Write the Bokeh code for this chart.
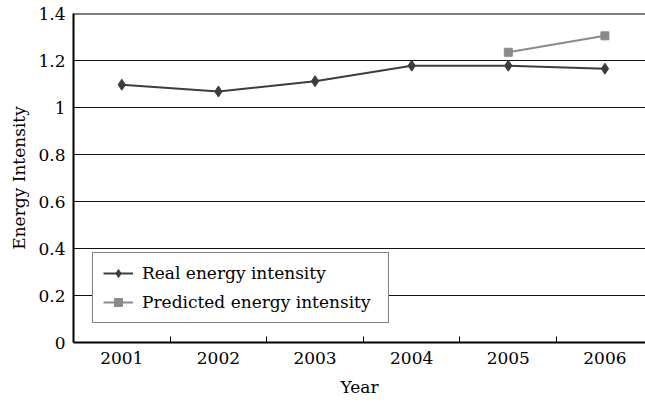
from bokeh.plotting import figure
from bokeh.models import Range1d, FixedTicker, Legend, LegendItem, Span
from bokeh.embed import file_html
from bokeh.resources import INLINE

years = ["2001", "2002", "2003", "2004", "2005", "2006"]
real = [1.097, 1.068, 1.112, 1.178, 1.178, 1.165]
pred_years = ["2005", "2006"]
pred = [1.235, 1.305]
y_ticks = [0, 0.2, 0.4, 0.6, 0.8, 1.0, 1.2, 1.4]
y_labels = ["0", "0.2", "0.4", "0.6", "0.8", "1", "1.2", "1.4"]

FONT = "DejaVu Serif"
FS = "17px"

xr = [i + 1 for i in range(len(years))]
xp = [years.index(y) + 1 for y in pred_years]

p = figure(width=645, height=403, output_backend="svg", toolbar_location=None,
           x_range=Range1d(0.5, 6.42), y_range=Range1d(0, 1.4))
p.min_border_left = 73
p.min_border_right = 0
p.min_border_top = 13
p.min_border_bottom = 61
p.outline_line_color = None
p.background_fill_color = "white"
p.border_fill_color = "white"

# x axis
xa = p.xaxis[0]
xa.ticker = FixedTicker(ticks=xr, minor_ticks=[i + 0.5 for i in range(1, len(years))])
xa.major_label_overrides = {i + 1: y for i, y in enumerate(years)}
xa.major_tick_in = 0
xa.major_tick_out = 0
xa.minor_tick_in = 6
xa.minor_tick_out = 0
xa.minor_tick_line_color = "black"
xa.minor_tick_line_width = 1
xa.axis_line_color = "black"
xa.axis_line_width = 2
xa.major_label_standoff = 9
xa.major_label_text_font = FONT
xa.major_label_text_font_size = FS
xa.major_label_text_color = "black"
xa.axis_label = "Year"
xa.axis_label_text_font = FONT
xa.axis_label_text_font_size = FS
xa.axis_label_text_font_style = "normal"
xa.axis_label_text_color = "black"
xa.axis_label_standoff = 10

# y axis
ya = p.yaxis[0]
ya.ticker = FixedTicker(ticks=y_ticks)
ya.major_label_overrides = {t: l for t, l in zip(y_ticks, y_labels)}
ya.major_tick_in = 0
ya.major_tick_out = 0
ya.minor_tick_line_color = None
ya.axis_line_color = "black"
ya.axis_line_width = 2
ya.major_label_standoff = 8
ya.major_label_text_font = FONT
ya.major_label_text_font_size = FS
ya.major_label_text_color = "black"
ya.axis_label = "Energy Intensity"
ya.axis_label_text_font = FONT
ya.axis_label_text_font_size = FS
ya.axis_label_text_font_style = "normal"
ya.axis_label_text_color = "black"
ya.axis_label_standoff = 6

p.xgrid.grid_line_color = None
p.ygrid.grid_line_color = "#111111"
p.ygrid.grid_line_width = 1.2
p.add_layout(Span(location=1.4, dimension="width", line_color="black", line_width=2))

r1 = p.line(xr, real, line_color="#3d3d3d", line_width=2)
m1 = p.scatter(xr, real, marker="diamond", size=11, fill_color="#3d3d3d", line_color="#3d3d3d")
r2 = p.line(xp, pred, line_color="#8a8a8a", line_width=2)
m2 = p.scatter(xp, pred, marker="square", size=8, fill_color="#8a8a8a", line_color="#8a8a8a")

legend = Legend(items=[LegendItem(label="Real energy intensity", renderers=[r1, m1]),
                       LegendItem(label="Predicted energy intensity", renderers=[r2, m2])],
                location=(19, 19))
legend.label_text_font = FONT
legend.label_text_font_size = FS
legend.label_text_color = "black"
legend.border_line_color = "black"
legend.border_line_width = 1.5
legend.background_fill_color = "white"
legend.background_fill_alpha = 1
legend.glyph_width = 30
legend.glyph_height = 20
legend.label_height = 20
legend.label_width = 236
legend.label_standoff = 9
legend.spacing = 9
legend.padding = 10
legend.margin = 0
p.add_layout(legend, "center")

open("out.html", "w").write(file_html(p, INLINE))
